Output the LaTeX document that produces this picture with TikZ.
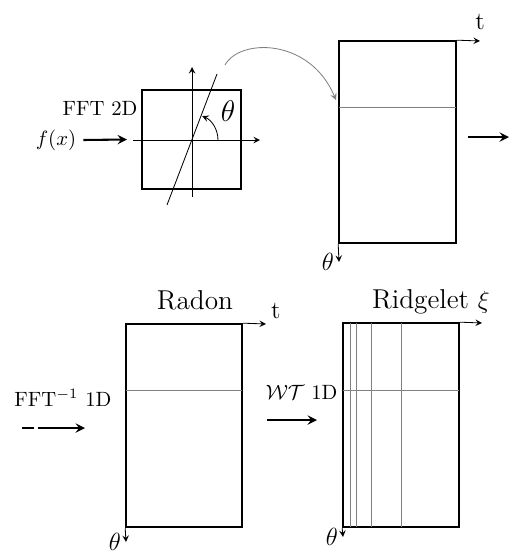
\documentclass[tikz,border=0pt]{standalone}
\usepackage{amsmath}
\usepackage{tikz}
\usepackage{xcolor}

\tikzset{
  frame/.style={draw, line width=0.8pt, inner sep=0pt},
  axis/.style={->, line width=0.4pt},
  grid/.style={gray, line width=0.4pt},
  flow/.style={->, line width=1pt},
  title/.style={font=\fontsize{13.2}{16}\selectfont},
}

\begin{document}
\begin{tikzpicture}[x=0.017cm, y=-0.017cm, >=stealth]
    \useasboundingbox (0,0) rectangle (509,555);
    % Fourier plane
    \node[frame, minimum width=1.683cm, minimum height=1.683cm] (plane) at (191.5,139.5) {};
    \draw[axis] (133,140) -- (260,140);
    \draw[axis] (192,197) -- (192,67);
    \draw[line width=0.4pt] (167,205) -- (217,74);
    \draw[->, line width=0.4pt] (218,140) arc[start angle=0, end angle=-67, radius=26];
    \node at (228,111) {\Large $\theta$};
    \node[anchor=east, inner sep=1pt] (fft2) at (140,108) {FFT 2D};
    \node (fx) at (56,140) {$f(x)$};
    \draw[flow] (fx.east) -- (plane.west -| 127,0);
    % Sinogram in Fourier domain
    \node[frame, minimum width=1.989cm, minimum height=3.434cm] (sino) at (397.5,142) {};
    \draw[grid] (339,107) -- (456,107);
    \draw[axis] (sino.north east) -- (480,41) node[above=2pt] {\large t};
    \draw[axis] (sino.south west) -- (339,262) node[left=-1pt] {\large $\theta$};
    \coordinate (bend) at (225,65);
    \draw[->, gray, line width=0.4pt] (bend) .. controls (240,38) and (310,38) .. (336,100);
    \coordinate (out1) at (468,137);
    \draw[flow] (out1) -- (509,137);
    % Radon
    \node[frame, minimum width=1.972cm, minimum height=3.451cm] (radon) at (184,425.5) {};
    \node[title] (radlab) at (195,300) {Radon};
    \draw[grid] (126,390) -- (242,390);
    \draw[axis] (radon.north east) -- (266,324) node[above right=-1pt] {\large t};
    \draw[axis] (radon.south west) -- (126,542) node[left=-1pt] {\large $\theta$};
    \node[anchor=east, inner sep=1pt] (ifft) at (114,398) {FFT$^{-1}$ 1D};
    \coordinate (in2) at (22,428);
    \draw[flow, dash pattern=on 6pt off 1.5pt on 40pt] (in2) -- (85,428);
    % Ridgelet
    \node[frame, minimum width=1.972cm, minimum height=3.468cm] (ridge) at (401,425) {};
    \node[title] (ridlab) at (431,302) {Ridgelet $\xi$};
    \draw[grid] (343,390) -- (459,390);
    \foreach \x in {350,356,371,401}
        \draw[grid] (\x,323) -- (\x,527);
    \draw[axis] (ridge.north east) -- (482,323);
    \draw[axis] (ridge.south west) -- (343,537) node[left=-1pt] {\large $\theta$};
    \node[anchor=east, inner sep=1pt] (wt) at (340,392) {$\mathcal{WT}$ 1D};
    \coordinate (in3) at (267,420);
    \draw[flow] (in3) -- (317,420);
\end{tikzpicture}
\end{document}
